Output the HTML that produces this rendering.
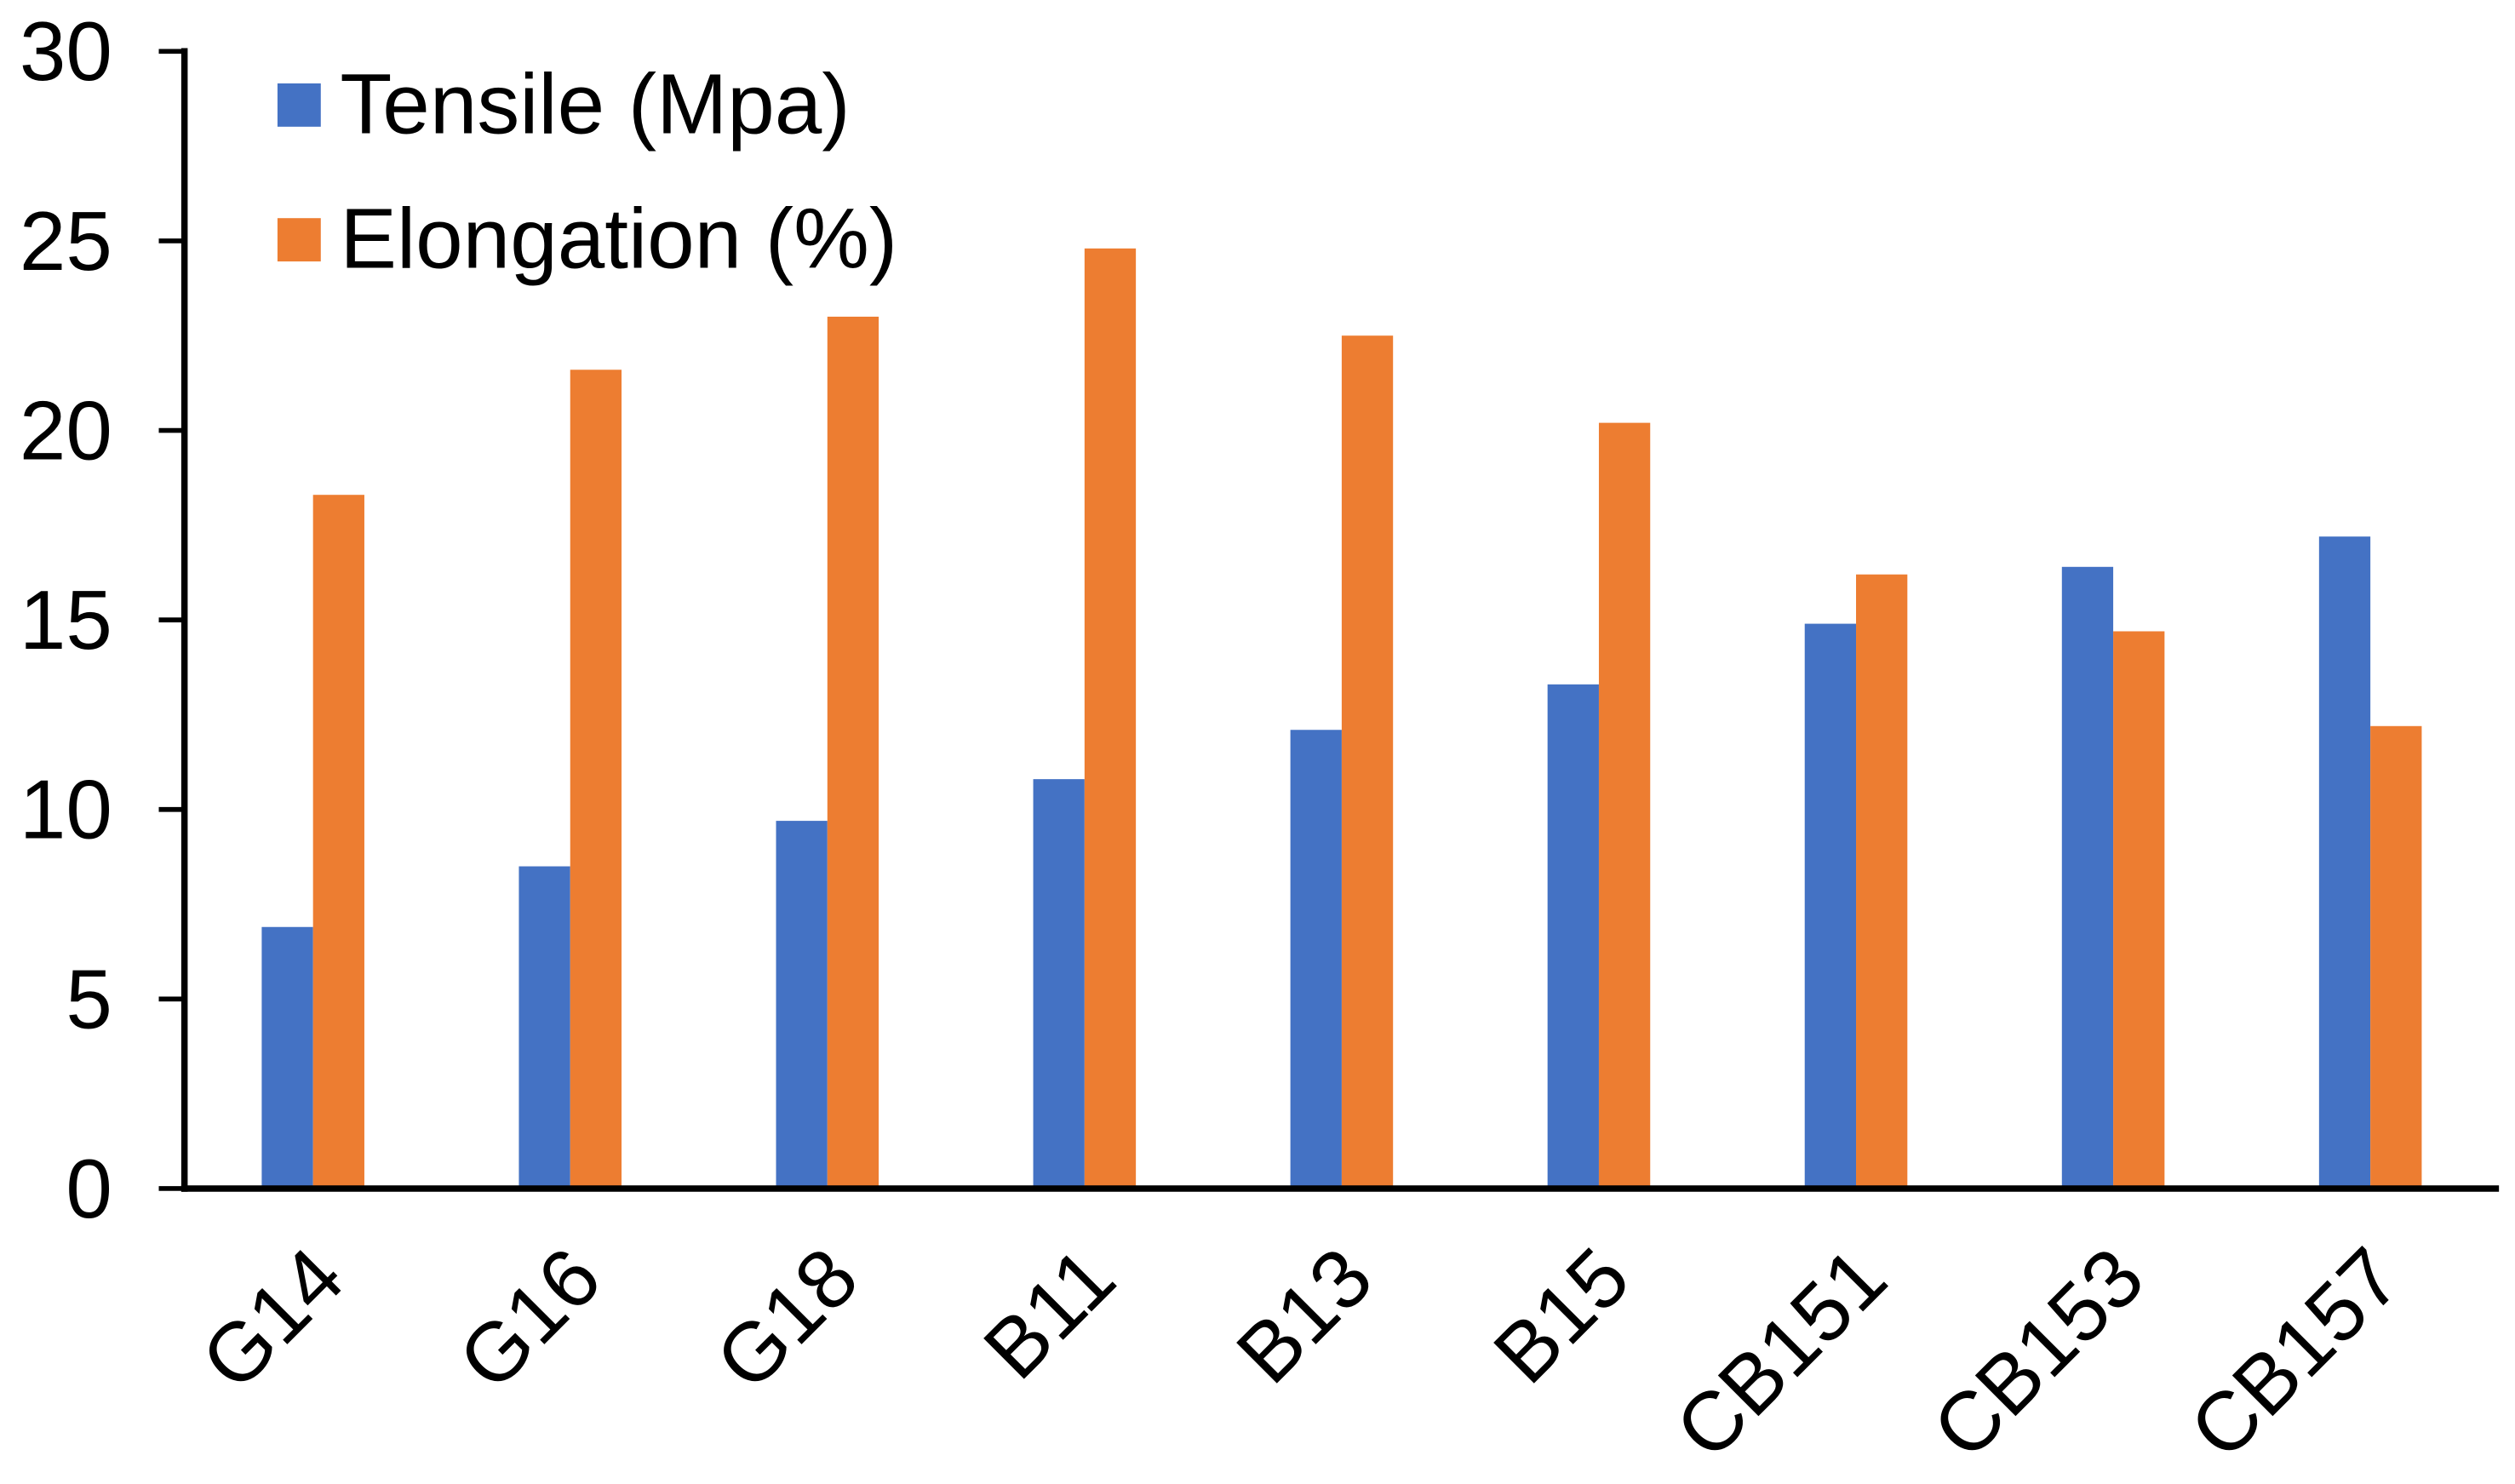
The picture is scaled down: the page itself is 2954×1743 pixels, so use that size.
<!DOCTYPE html>
<html><head><meta charset="utf-8"><style>
html,body{margin:0;padding:0;background:#fff;}
svg{display:block;}
text{font-family:"Liberation Sans",Arial,sans-serif;fill:#000;}
</style></head><body>
<svg id="chart" width="2954" height="1743" viewBox="0 0 1568 925.2" preserveAspectRatio="none" xmlns="http://www.w3.org/2000/svg">
<g id="bars"></g>
<g id="axes"></g>
<g id="legend">
<rect x="173" y="52" width="27" height="27" fill="#4472C4"/>
<text x="212" y="83" font-size="53">Tensile (Mpa)</text>
<rect x="173" y="136" width="27" height="27" fill="#ED7D31"/>
<text x="212" y="167" font-size="53">Elongation (%)</text>
</g>
</svg>
<script>
const categories=["G14","G16","G18","B11","B13","B15","CB151","CB153","CB157"];
const tensile=[6.9,8.5,9.7,10.8,12.1,13.3,14.9,16.4,17.2];
const elongation=[18.3,21.6,23.0,24.8,22.5,20.2,16.2,14.7,12.2];
const yTicks=[0,5,10,15,20,25,30];
const NS="http://www.w3.org/2000/svg";
const x0=115,x1=1558,y0=741,yTop=32,yMax=30;
const band=(x1-x0)/categories.length,bw=32;
const y=v=>y0-(v/yMax)*(y0-yTop);
const xc=i=>x0+band*(i+0.5);
function mk(tag,attrs,parent){const e=document.createElementNS(NS,tag);for(const k in attrs)e.setAttribute(k,attrs[k]);parent.appendChild(e);return e;}
const bars=document.getElementById('bars'),axes=document.getElementById('axes');
categories.forEach((c,i)=>{
  const b=mk('rect',{x:xc(i)-bw,y:y(tensile[i]),width:bw,height:y0-y(tensile[i]),fill:'#4472C4'},bars);
  
  
  const o=mk('rect',{x:xc(i),y:y(elongation[i]),width:bw,height:y0-y(elongation[i]),fill:'#ED7D31'},bars);
  
  
  const t=mk('text',{x:0,y:0,'font-size':52,'text-anchor':'end',transform:`translate(${xc(i)+22},${800}) rotate(-45)`},axes);
  t.textContent=c;
  
  
});
yTicks.forEach(v=>{
  const tk=mk('line',{x1:99,x2:x0,y1:y(v),y2:y(v),stroke:'#000','stroke-width':3},axes);
  
  
  const t=mk('text',{x:70,y:y(v)+18,'font-size':52,'text-anchor':'end'},axes);
  t.textContent=v;
  
  
});
const ya=mk('line',{x1:x0,x2:x0,y1:yTop-2,y2:y0+2,stroke:'#000','stroke-width':4},axes);


const xa=mk('line',{x1:x0-2,x2:x1,y1:y0,y2:y0,stroke:'#000','stroke-width':4},axes);


</script>
</body></html>
